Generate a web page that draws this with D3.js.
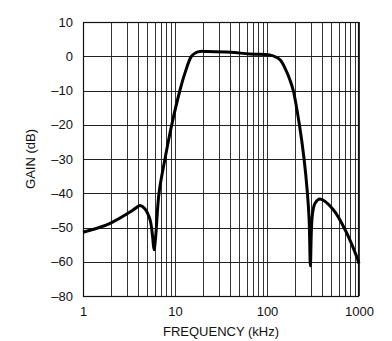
<!DOCTYPE html>
<html><head><meta charset="utf-8">
<script src="https://cdn.jsdelivr.net/npm/d3@7"></script>
<style>
html,body{margin:0;padding:0;background:#fff;}
text{font-family:"Liberation Sans",Arial,sans-serif;fill:#111;}
</style></head>
<body>
<svg id="chart" width="392" height="341"></svg>
<script>
// data
const freqKHz = [1, 1.5, 2, 3.24, 3.8, 4.17, 4.7, 5.35, 5.7, 5.92, 6.15, 6.7, 7.78, 9.22, 11.3, 12.8, 15.1, 17, 18.7, 22, 40, 65, 107, 138, 160, 178, 193, 225, 253, 275, 287, 296, 304, 313, 333, 377, 526, 735, 940, 1000];
const gainDB  = [-51.4, -50.0, -48.7, -45.5, -44.2, -43.6, -44.5, -47.7, -52.5, -56.5, -53, -40, -30, -20, -10, -5, 0, 1.1, 1.4, 1.4, 1.2, 0.65, 0.4, -1, -4.0, -7.0, -10, -20, -30, -40, -47.7, -62.4, -50.6, -45.8, -42.9, -41.7, -44.8, -51.6, -58.4, -61];
const yTicks = [10, 0, -10, -20, -30, -40, -50, -60, -80];
const xTicks = [1, 10, 100, 1000];
const xMinor = [2,3,4,5,6,7,8,9,20,30,40,50,60,70,80,90,200,300,400,500,600,700,800,900];

const L = 83, R = 359, T = 22, B = 296;
const svg = d3.select("#chart");
const x = d3.scaleLog().domain([1, 1000]).range([L, R]);
const step = (B - T) / 8;
const y = d3.scaleLinear().domain([-80, -60, 10]).range([B, B - step, T]);

// grid
const g = svg.append("g");
g.selectAll(".vg").data(xTicks.concat(xMinor)).join("line")
  .attr("x1", d => Math.round(x(d)) + 0.5).attr("x2", d => Math.round(x(d)) + 0.5)
  .attr("y1", T).attr("y2", B).attr("stroke", "#333").attr("stroke-width", 1);
g.selectAll(".hg").data(yTicks).join("line")
  .attr("x1", L).attr("x2", R)
  .attr("y1", d => Math.round(y(d)) + 0.5).attr("y2", d => Math.round(y(d)) + 0.5)
  .attr("stroke", "#222").attr("stroke-width", 1);
svg.append("rect").attr("x", L + 0.5).attr("y", T + 0.5).attr("width", R - L - 1).attr("height", B - T)
  .attr("fill", "none").attr("stroke", "#111").attr("stroke-width", 1.2);

// axes
const fmt = d => d < 0 ? "\u2013" + Math.abs(d) : String(d);
const ya = svg.append("g").attr("transform", `translate(${L},0)`)
  .call(d3.axisLeft(y).tickValues(yTicks).tickSize(0).tickPadding(10).tickFormat(fmt));
const xa = svg.append("g").attr("transform", `translate(0,${B})`)
  .call(d3.axisBottom(x).tickValues(xTicks).tickSize(0).tickPadding(11).tickFormat(d3.format("d")));
[ya, xa].forEach(a => {
  a.select(".domain").remove();
  a.selectAll("text").attr("font-size", 13).attr("font-family", "Liberation Sans, Arial, sans-serif").attr("fill", "#111");
});

// curve
const line = d3.line().x((d, i) => x(freqKHz[i])).y(d => y(d)).curve(d3.curveCatmullRom.alpha(0.5));
svg.append("path").attr("d", line(gainDB)).attr("fill", "none").attr("stroke", "#000")
  .attr("stroke-width", 3).attr("stroke-linejoin", "round");

// labels
svg.append("text").attr("x", (L + R) / 2).attr("y", 336).attr("text-anchor", "middle")
  .attr("font-size", 13).text("FREQUENCY (kHz)");
svg.append("text").attr("transform", `translate(35,${(T + B) / 2 + 0})rotate(-90)`)
  .attr("text-anchor", "middle").attr("font-size", 13).text("GAIN (dB)");
</script>
</body></html>
